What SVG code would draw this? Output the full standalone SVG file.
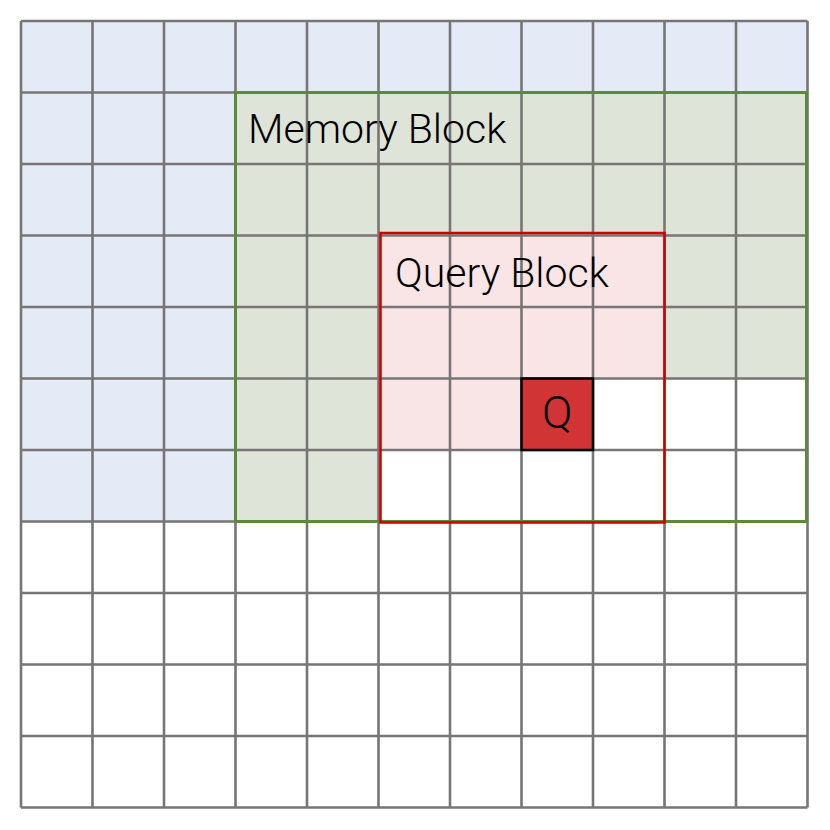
<svg xmlns="http://www.w3.org/2000/svg" width="830" height="830" viewBox="0 0 830 830">
<style>
.grid{stroke:#777575;stroke-width:2.6;fill:none}
.lbl{font-family:Roboto,"Liberation Sans",sans-serif;font-weight:300;fill:#000}
</style>
<rect width="830" height="830" fill="#fff"/>
<g id="fills">
<rect x="21" y="21" width="786.5" height="71.5" fill="#e4eaf6"/>
<rect x="21" y="92.5" width="214.5" height="429" fill="#e4eaf6"/>
<rect x="235.5" y="92.5" width="572" height="286" fill="#dee5d8"/>
<rect x="235.5" y="378.5" width="143" height="143" fill="#dee5d8"/>
<rect x="378.5" y="235.5" width="286" height="143" fill="#f9e5e6"/>
<rect x="378.5" y="378.5" width="143" height="71.5" fill="#f9e5e6"/>
</g>
<g id="grid" class="grid">
<path d="M21 21V807.5M92.5 21V807.5M164 21V807.5M235.5 21V807.5M307 21V807.5M378.5 21V807.5M450 21V807.5M521.5 21V807.5M593 21V807.5M664.5 21V807.5M736 21V807.5M807.5 21V807.5"/>
<path d="M21 21H807.5M21 92.5H807.5M21 164H807.5M21 235.5H807.5M21 307H807.5M21 378.5H807.5M21 450H807.5M21 521.5H807.5M21 593H807.5M21 664.5H807.5M21 736H807.5M21 807.5H807.5"/>
</g>
<g id="memory-block">
<rect x="235.5" y="92.5" width="571" height="429" fill="none" stroke="#5a8a3a" stroke-width="3"/>
<text class="lbl" x="248" y="143" font-size="41">Memory Block</text>
</g>
<g id="query-block">
<rect x="380.5" y="233" width="284" height="289.5" fill="none" stroke="#cc0000" stroke-width="2.5"/>
<text class="lbl" x="395" y="287" font-size="41">Query Block</text>
</g>
<g id="q">
<rect x="521.5" y="378.5" width="71.5" height="71.5" fill="#d03434" stroke="#000" stroke-width="2.5"/>
<text class="lbl" x="557.25" y="428" font-size="45" text-anchor="middle">Q</text>
</g>
<g id="connectors"/>
</svg>
